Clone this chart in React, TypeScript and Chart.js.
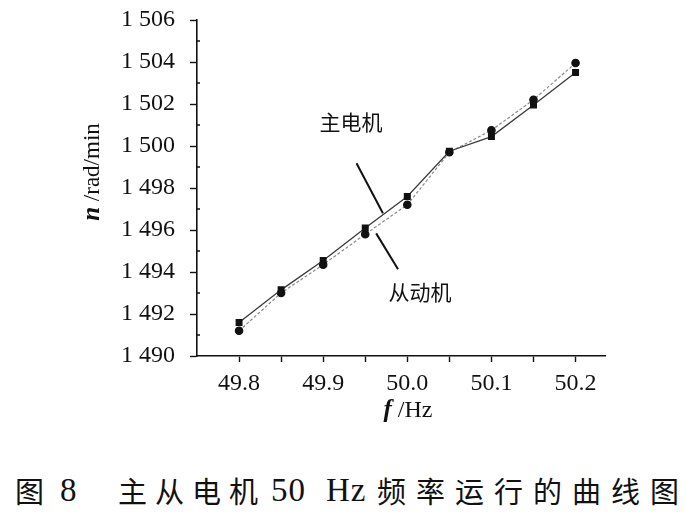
import React, { useEffect, useRef } from "react";
import { Chart, registerables } from "chart.js";

Chart.register(...registerables);

const freqs = [49.8, 49.85, 49.9, 49.95, 50.0, 50.05, 50.1, 50.15, 50.2];
const masterSpeed = [1491.6, 1493.15, 1494.55, 1496.1, 1497.6, 1499.75, 1500.45, 1501.95, 1503.5];
const slaveSpeed = [1491.2, 1493.0, 1494.35, 1495.8, 1497.2, 1499.7, 1500.75, 1502.2, 1503.95];
const xTickValues = [49.8, 49.85, 49.9, 49.95, 50.0, 50.05, 50.1, 50.15, 50.2];
const yTickValues = [1490, 1492, 1494, 1496, 1498, 1500, 1502, 1504, 1506];
const yMinorValues = [1491, 1493, 1495, 1497, 1499, 1501, 1503, 1505];
const labelTexts = ["主电机", "从动机"];
const labelPoints = [
  [49.933, 1501.15],
  [50.015, 1493.05],
];
const pointerLines = [
  [49.9396, 1499.18, 49.971, 1496.8],
  [49.963, 1495.84, 49.989, 1494.13],
];
const captionParts = ["图", "8", "主从电机", "50", "Hz", "频率运行的曲线图"];
const captionLefts = [15, 60, 118, 271, 326, 377];
const captionSpacing = [0, 0, 8, 1, 1, 10];

const serif = "Liberation Serif";
const cjk = "Noto Sans CJK SC";

const decorPlugin = {
  id: "decor",
  afterDraw(chart: any) {
    const { ctx, scales } = chart;
    const xs = scales.x;
    const ys = scales.y;
    ctx.save();
    ctx.strokeStyle = "#111";
    ctx.lineWidth = 1.5;
    yMinorValues.forEach((v) => {
      const py = ys.getPixelForValue(v);
      ctx.beginPath();
      ctx.moveTo(xs.left, py);
      ctx.lineTo(xs.left + 3, py);
      ctx.stroke();
    });
    ctx.lineWidth = 2;
    pointerLines.forEach(([x1, y1, x2, y2]) => {
      ctx.beginPath();
      ctx.moveTo(xs.getPixelForValue(x1), ys.getPixelForValue(y1));
      ctx.lineTo(xs.getPixelForValue(x2), ys.getPixelForValue(y2));
      ctx.stroke();
    });
    ctx.fillStyle = "#111";
    ctx.font = `21px "${cjk}"`;
    ctx.textAlign = "center";
    ctx.textBaseline = "middle";
    labelTexts.forEach((t, i) => {
      ctx.fillText(t, xs.getPixelForValue(labelPoints[i][0]), ys.getPixelForValue(labelPoints[i][1]));
    });
    ctx.save();
    ctx.translate(93, 172);
    ctx.rotate(-Math.PI / 2);
    ctx.textBaseline = "middle";
    ctx.textAlign = "left";
    ctx.font = `bold italic 25px "${serif}"`;
    const nW = ctx.measureText("n").width;
    ctx.font = `23px "${serif}"`;
    const restW = ctx.measureText(" /rad/min").width;
    const start = -(nW + restW) / 2;
    ctx.font = `bold italic 25px "${serif}"`;
    ctx.fillText("n", start, 0);
    ctx.font = `23px "${serif}"`;
    ctx.fillText(" /rad/min", start + nW, 0);
    ctx.restore();
    ctx.textBaseline = "middle";
    ctx.textAlign = "left";
    ctx.font = `bold italic 25px "${serif}"`;
    const fW = ctx.measureText("f").width;
    ctx.font = `24px "${serif}"`;
    const hzW = ctx.measureText(" /Hz").width;
    const sx = 408 - (fW + hzW) / 2;
    ctx.font = `bold italic 25px "${serif}"`;
    ctx.fillText("f", sx, 411);
    ctx.font = `24px "${serif}"`;
    ctx.fillText(" /Hz", sx + fW, 411);
    ctx.restore();
  },
};

export default function App() {
  const ref = useRef<HTMLCanvasElement>(null);
  useEffect(() => {
    if (!ref.current) return;
    const chart = new Chart(ref.current, {
      type: "line",
      data: {
        datasets: [
          {
            label: "主电机",
            data: freqs.map((f, i) => ({ x: f, y: masterSpeed[i] })),
            borderColor: "#3a3a3a",
            borderWidth: 1.3,
            backgroundColor: "#111",
            pointStyle: "rect",
            pointRadius: 4,
            pointBorderColor: "#111",
            pointBackgroundColor: "#111",
          },
          {
            label: "从动机",
            data: freqs.map((f, i) => ({ x: f, y: slaveSpeed[i] })),
            borderColor: "#8a8a8a",
            borderWidth: 1.2,
            borderDash: [3, 2],
            backgroundColor: "#111",
            pointStyle: "circle",
            pointRadius: 3.7,
            pointBorderColor: "#111",
            pointBackgroundColor: "#111",
          },
        ],
      },
      options: {
        animation: false,
        responsive: false,
        devicePixelRatio: 1,
        layout: { padding: { left: 0, top: 20, right: 81, bottom: 0 } },
        plugins: {
          legend: { display: false },
          tooltip: { enabled: false },
          title: { display: false },
        },
        scales: {
          x: {
            type: "linear",
            min: 49.75,
            max: 50.235,
            afterBuildTicks: (s: any) => {
              s.ticks = xTickValues.map((v) => ({ value: v }));
            },
            afterFit: (s: any) => {
              s.height = 84;
              s.paddingLeft = 0;
              s.paddingRight = 0;
            },
            border: { display: true, color: "#111", width: 1.6 },
            grid: { drawOnChartArea: false, drawTicks: true, tickLength: 6, tickColor: "#111", tickWidth: 1.4 },
            ticks: {
              padding: 7,
              color: "#111",
              font: { family: serif, size: 24 },
              maxRotation: 0,
              autoSkip: false,
              callback: (v: any) => {
                const n = Number(v);
                return Math.round(n * 100) % 10 === 0 ? n.toFixed(1) : "";
              },
            },
          },
          y: {
            type: "linear",
            min: 1490,
            max: 1506,
            afterBuildTicks: (s: any) => {
              s.ticks = yTickValues.map((v) => ({ value: v }));
            },
            afterFit: (s: any) => {
              s.width = 197;
              s.paddingTop = 0;
              s.paddingBottom = 0;
            },
            border: { display: true, color: "#111", width: 1.6 },
            grid: { drawOnChartArea: false, drawTicks: true, tickLength: 7, tickColor: "#111", tickWidth: 1.4 },
            ticks: {
              padding: 15,
              color: "#111",
              font: { family: serif, size: 24 },
              autoSkip: false,
              callback: (v: any) => `1 ${String(Number(v) - 1000)}`,
            },
          },
        },
      },
      plugins: [decorPlugin],
    });
    return () => chart.destroy();
  }, []);
  return (
    <div style={{ position: "absolute", left: 0, top: 0, width: 686, height: 516, background: "#fff" }}>
      <canvas ref={ref} width={686} height={440} style={{ display: "block" }} />
      {captionParts.map((t, i) => {
        const isCjk = /[\u4e00-\u9fff]/.test(t);
        return (
          <div
            key={i}
            style={{
              position: "absolute",
              left: captionLefts[i],
              top: 470,
              fontFamily: isCjk ? `"${cjk}"` : `"${serif}"`,
              fontSize: isCjk ? 29 : 33,
              letterSpacing: `${captionSpacing[i]}px`,
              whiteSpace: "pre",
              color: "#111",
              lineHeight: "40px",
            }}
          >
            {t}
          </div>
        );
      })}
    </div>
  );
}
